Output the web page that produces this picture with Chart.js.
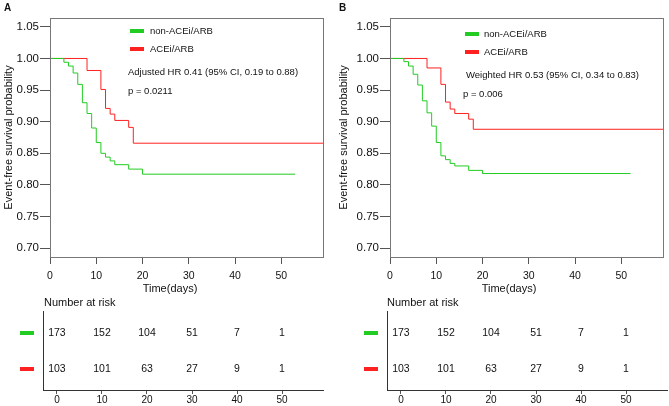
<!DOCTYPE html>
<html>
<head>
<meta charset="utf-8">
<script src="https://cdn.jsdelivr.net/npm/chart.js@4.4.0/dist/chart.umd.min.js"></script>
<style>
  body { margin: 0; width: 669px; height: 406px; background: #fff; position: relative; overflow: hidden;
         font-family: "Liberation Sans", Arial, sans-serif; color: #111; }
  canvas { position: absolute; }
  .txt { position: absolute; white-space: nowrap; line-height: 1; transform: translateY(-50%); }
  .bar { position: absolute; width: 14px; height: 4px; transform: translateY(-50%); }
</style>
</head>
<body>
<canvas id="kmA" width="335" height="290" style="left:0;top:0"></canvas>
<canvas id="riskA" width="335" height="106" style="left:0;top:300px"></canvas>
<canvas id="kmB" width="334" height="290" style="left:335px;top:0"></canvas>
<canvas id="riskB" width="334" height="106" style="left:335px;top:300px"></canvas>

<!-- panel A texts -->
<div class="txt" style="left:4px;top:8px;font-weight:bold;font-size:10px">A</div>
<div class="bar" style="left:130px;top:31px;background:#22cc22"></div>
<div class="txt" style="left:150px;top:31px;font-size:9.5px">non-ACEi/ARB</div>
<div class="bar" style="left:130px;top:49px;background:#ff2020"></div>
<div class="txt" style="left:150px;top:49px;font-size:9.5px">ACEi/ARB</div>
<div class="txt" style="left:128px;top:72px;font-size:9.5px">Adjusted HR 0.41 (95% CI, 0.19 to 0.88)</div>
<div class="txt" style="left:128px;top:91px;font-size:9.5px">p = 0.0211</div>
<div class="txt" style="left:170px;top:288px;font-size:11px;transform:translate(-50%,-50%)">Time(days)</div>
<div class="txt" style="left:44px;top:302px;font-size:11px">Number at risk</div>

<!-- panel B texts -->
<div class="txt" style="left:339px;top:8px;font-weight:bold;font-size:10px">B</div>
<div class="bar" style="left:465px;top:34px;background:#22cc22"></div>
<div class="txt" style="left:484px;top:34px;font-size:9.5px">non-ACEi/ARB</div>
<div class="bar" style="left:465px;top:52px;background:#ff2020"></div>
<div class="txt" style="left:484px;top:52px;font-size:9.5px">ACEi/ARB</div>
<div class="txt" style="left:466px;top:75px;font-size:9.5px">Weighted HR 0.53 (95% CI, 0.34 to 0.83)</div>
<div class="txt" style="left:463px;top:94px;font-size:9.5px">p = 0.006</div>
<div class="txt" style="left:509px;top:288px;font-size:11px;transform:translate(-50%,-50%)">Time(days)</div>
<div class="txt" style="left:387px;top:302px;font-size:11px">Number at risk</div>

<script>
// Kaplan-Meier curves (time in days, survival probability)
const aGreenTime = [0, 3, 4, 5, 6, 7, 8, 9, 10, 11, 12, 13, 14, 17, 20, 53];
const aGreenSurv = [1, 0.994, 0.988, 0.977, 0.959, 0.930, 0.913, 0.890, 0.867, 0.850, 0.844, 0.838, 0.832, 0.825, 0.817, 0.817];
const aRedTime = [0, 8, 11, 12, 13, 14, 17, 18, 59];
const aRedSurv = [1, 0.981, 0.951, 0.921, 0.912, 0.902, 0.891, 0.866, 0.866];

const bGreenTime = [0, 3, 4, 5, 6, 7, 8, 9, 10, 11, 12, 13, 14, 17, 20, 52];
const bGreenSurv = [1, 0.995, 0.988, 0.975, 0.958, 0.933, 0.914, 0.893, 0.867, 0.846, 0.840, 0.834, 0.830, 0.823, 0.818, 0.818];
const bRedTime = [0, 8, 11, 12, 13, 14, 17, 18, 59];
const bRedSurv = [1, 0.985, 0.959, 0.931, 0.920, 0.913, 0.904, 0.888, 0.888];

// Number at risk tables
const riskTimes = [0, 10, 20, 30, 40, 50];
const aRiskGreen = [173, 152, 104, 51, 7, 1];
const aRiskRed = [103, 101, 63, 27, 9, 1];
const bRiskGreen = [173, 152, 104, 51, 7, 1];
const bRiskRed = [103, 101, 63, 27, 9, 1];

// Tick labels
const xTicks = [0, 10, 20, 30, 40, 50];
const yTicks = [0.70, 0.75, 0.80, 0.85, 0.90, 0.95, 1.00, 1.05];

const GREEN = "#22cc22";
const RED = "#ff2020";
const AXIS = "#555";
const FONT = "'Liberation Sans', Arial, sans-serif";

const toPoints = (xs, ys) => xs.map((x, i) => ({ x: x, y: ys[i] }));

// draws the box round the plot area
const framePlugin = {
  id: "frame",
  afterDraw(chart) {
    const { ctx, chartArea: a } = chart;
    ctx.save();
    ctx.strokeStyle = "#777";
    ctx.lineWidth = 1;
    ctx.strokeRect(Math.round(a.left) + 0.5, Math.round(a.top) + 0.5,
      Math.round(a.right - a.left), Math.round(a.bottom - a.top));
    ctx.restore();
  }
};

// writes the counts at the positions of the (invisible) points + colour key left of the axis
const riskPlugin = {
  id: "riskText",
  afterDatasetsDraw(chart) {
    const { ctx, chartArea: a } = chart;
    ctx.save();
    chart.data.datasets.forEach((ds, i) => {
      const meta = chart.getDatasetMeta(i);
      ctx.fillStyle = ds.borderColor;
      const rowY = Math.round(chart.scales.y.getPixelForValue(ds.data[0].y));
      ctx.fillRect(a.left - 23, rowY - 2, 14, 4);
      ctx.fillStyle = "#111";
      ctx.font = "10.5px " + FONT;
      ctx.textAlign = "center";
      ctx.textBaseline = "middle";
      meta.data.forEach((pt, j) => ctx.fillText(String(ds.counts[j]), pt.x, pt.y));
    });
    ctx.restore();
  }
};

function kmChart(id, greenT, greenS, redT, redS, yWidth, padRight) {
  new Chart(document.getElementById(id), {
    type: "line",
    data: {
      datasets: [
        { label: "non-ACEi/ARB", data: toPoints(greenT, greenS), borderColor: GREEN, borderWidth: 1, stepped: true, pointRadius: 0 },
        { label: "ACEi/ARB", data: toPoints(redT, redS), borderColor: RED, borderWidth: 1, stepped: true, pointRadius: 0 }
      ]
    },
    options: {
      responsive: false,
      animation: false,
      layout: { padding: { top: 18, right: padRight, left: 0, bottom: 0 } },
      plugins: { legend: { display: false }, tooltip: { enabled: false } },
      scales: {
        x: {
          type: "linear", min: 0, max: 59,
          afterBuildTicks: (s) => { s.ticks = xTicks.map(v => ({ value: v })); },
          afterFit: (s) => { s.height = 33; },
          grid: { drawOnChartArea: false, tickLength: 7, color: AXIS },
          border: { color: AXIS },
          ticks: { font: { size: 10.5, family: FONT }, color: "#111", padding: 6, maxRotation: 0 }
        },
        y: {
          type: "linear", min: 0.686, max: 1.064,
          afterBuildTicks: (s) => { s.ticks = yTicks.map(v => ({ value: v })); },
          afterFit: (s) => { s.width = yWidth; },
          grid: { drawOnChartArea: false, tickLength: 10, color: AXIS },
          border: { color: AXIS },
          ticks: { font: { size: 11.5, family: FONT }, color: "#111", padding: 1, callback: (v) => v.toFixed(2) },
          title: { display: true, text: "Event-free survival probability", font: { size: 11, family: FONT }, color: "#111", padding: { top: 2, bottom: 0 } }
        }
      }
    },
    plugins: [framePlugin]
  });
}

function riskChart(id, greenN, redN, yWidth, padRight) {
  new Chart(document.getElementById(id), {
    type: "line",
    data: {
      datasets: [
        { label: "non-ACEi/ARB", data: riskTimes.map(t => ({ x: t, y: 2 })), counts: greenN, borderColor: GREEN, showLine: false, pointRadius: 0 },
        { label: "ACEi/ARB", data: riskTimes.map(t => ({ x: t, y: 1 })), counts: redN, borderColor: RED, showLine: false, pointRadius: 0 }
      ]
    },
    options: {
      responsive: false,
      animation: false,
      layout: { padding: { top: 11, right: padRight, left: 0, bottom: 0 } },
      plugins: { legend: { display: false }, tooltip: { enabled: false } },
      scales: {
        x: {
          type: "linear", min: -3.1, max: 59.1,
          afterBuildTicks: (s) => { s.ticks = xTicks.map(v => ({ value: v })); },
          afterFit: (s) => { s.height = 16; },
          grid: { drawOnChartArea: false, tickLength: 4, color: AXIS },
          border: { color: "#333" },
          ticks: { font: { size: 10, family: FONT }, color: "#111", padding: 0, maxRotation: 0 }
        },
        y: {
          type: "linear", min: 0.42, max: 2.61,
          afterFit: (s) => { s.width = yWidth; },
          grid: { display: false },
          border: { color: "#333" },
          ticks: { display: false }
        }
      }
    },
    plugins: [riskPlugin]
  });
}

kmChart("kmA", aGreenTime, aGreenSurv, aRedTime, aRedSurv, 50, 12);
kmChart("kmB", bGreenTime, bGreenSurv, bRedTime, bRedSurv, 55, 6);
riskChart("riskA", aRiskGreen, aRiskRed, 43, 12);
riskChart("riskB", bRiskGreen, bRiskRed, 52, 2);
</script>
</body>
</html>
